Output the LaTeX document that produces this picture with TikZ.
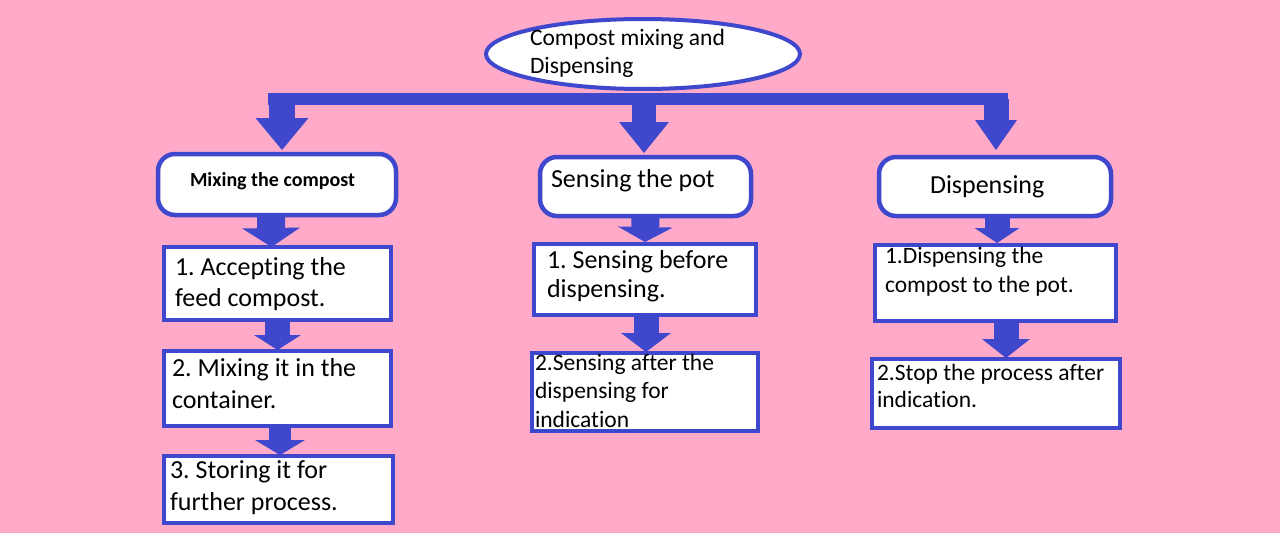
\documentclass[tikz,border=0pt]{standalone}
\usepackage{fontspec}
\setmainfont[Ligatures=NoCommon]{Carlito}
\usetikzlibrary{arrows.meta,shapes.geometric,calc}
\definecolor{bgpink}{HTML}{FFAAC9}
\definecolor{dblue}{HTML}{3F48CC}
\frenchspacing
\tikzset{
  stepbox/.style={draw=dblue, fill=white, line width=4.5pt, inner sep=0pt, outer sep=0pt},
  headbox/.style={stepbox, rounded corners=17pt},
  txt/.style={inner sep=0pt, outer sep=0pt, anchor=base west, align=left, text=black},
  blockarrow/.style n args={3}{draw=dblue, fill=dblue, line width=#1,
    -{Triangle[width=#2, length=#3, line width=0pt]}},
}
\begin{document}
\begin{tikzpicture}[x=1pt,y=-1pt]
\useasboundingbox (0,0) rectangle (1280,533);
\fill[bgpink] (0,0) rectangle (1280,533);

% horizontal bar
\coordinate (barL) at (268,99);
\coordinate (barR) at (1008,99);
\draw[dblue, line width=12pt] (barL) -- (barR);
\coordinate (sL) at (282,99);
\coordinate (sM) at (644,99);
\coordinate (sR) at (996,99);

% top ellipse
\node[ellipse, draw=dblue, fill=white, line width=4pt, minimum width=314pt,
      minimum height=70pt, inner sep=0pt] (top) at (643,54) {};

% header boxes
\node[headbox, minimum width=238pt, minimum height=61pt] (l0) at (277,184.5) {};
\node[headbox, minimum width=211pt, minimum height=59pt] (m0) at (645.5,186.5) {};
\node[headbox, minimum width=232pt, minimum height=59pt] (r0) at (995,186.5) {};

% step boxes
\node[stepbox, minimum width=227pt, minimum height=73pt] (l1) at (277.5,283.5) {};
\node[stepbox, minimum width=227pt, minimum height=75pt] (l2) at (277.5,388.5) {};
\node[stepbox, minimum width=229pt, minimum height=67pt] (l3) at (278.5,489.5) {};
\node[stepbox, minimum width=222pt, minimum height=71pt] (m1) at (645,279.5) {};
\node[stepbox, minimum width=226pt, minimum height=78pt] (m2) at (645,392) {};
\node[stepbox, minimum width=241pt, minimum height=76pt] (r1) at (995.5,283) {};
\node[stepbox, minimum width=248pt, minimum height=69pt] (r2) at (996,393.5) {};

% main arrows
\draw[blockarrow={26pt}{53pt}{32pt}] (sL) -- ($(sL |- l0.north)+(0,-4)$);
\draw[blockarrow={24pt}{50pt}{31pt}] (sM) -- ($(sM |- m0.north)+(0,-4)$);
\draw[blockarrow={25pt}{42pt}{30pt}] (sR) -- ($(sR |- r0.north)+(0,-7)$);

% small arrows
\draw[blockarrow={28pt}{58pt}{19pt}] ($(l0.south)+(-6,0)$) -- ($(l1.north)+(-6,0)$);
\draw[blockarrow={25pt}{47pt}{15pt}] (l1.south) -- ($(l2.north)+(0,-1)$);
\draw[blockarrow={22pt}{50pt}{15pt}] ($(l2.south)+(2.5,0)$) -- ($(l3.north)+(1.5,-1)$);
\draw[blockarrow={28pt}{55pt}{15pt}] (m0.south) -- ($(m1.north)+(0,-2)$);
\draw[blockarrow={25pt}{50pt}{19pt}] ($(m1.south)+(1,0)$) -- ($(m2.north)+(1,-1)$);
\draw[blockarrow={25pt}{45pt}{15pt}] ($(r0.south)+(2,0)$) -- ($(r1.north)+(1.5,-2)$);
\draw[blockarrow={25pt}{48pt}{19pt}] ($(r1.south)+(10.5,0)$) -- ($(r2.north)+(10,-1)$);

% texts (anchor at the baseline of the last line)
\node[txt, font=\fontsize{23.5}{27.5}\selectfont] (ttop) at (530,73) {Compost mixing and\\Dispensing};
\node[txt, font=\bfseries\fontsize{20}{24}\selectfont] (tl0) at (190,186) {Mixing the compost};
\node[txt, font=\fontsize{26}{31}\selectfont] (tm0) at (551,187) {Sensing the pot};
\node[txt, font=\fontsize{26}{31}\selectfont] (tr0) at (930,193) {Dispensing};
\node[txt, font=\fontsize{26}{31.5}\selectfont] (tl1) at (175,306.5) {1. Accepting the\\feed compost.};
\node[txt, font=\fontsize{26}{31.5}\selectfont] (tl2) at (172,408) {2. Mixing it in the\\container.};
\node[txt, font=\fontsize{26}{32}\selectfont] (tl3) at (170,510) {3. Storing it for\\further process.};
\node[txt, font=\fontsize{26}{29}\selectfont] (tm1) at (547,297) {1. Sensing before\\dispensing.};
\node[txt, font=\fontsize{23.5}{28.5}\selectfont] (tm2) at (535,427) {2.Sensing after the\\dispensing for\\indication};
\node[txt, font=\fontsize{23.5}{29}\selectfont] (tr1) at (885,292) {1.Dispensing the\\compost to the pot.};
\node[txt, font=\fontsize{23.5}{27}\selectfont] (tr2) at (877,407) {2.Stop the process after\\indication.};
\end{tikzpicture}
\end{document}
